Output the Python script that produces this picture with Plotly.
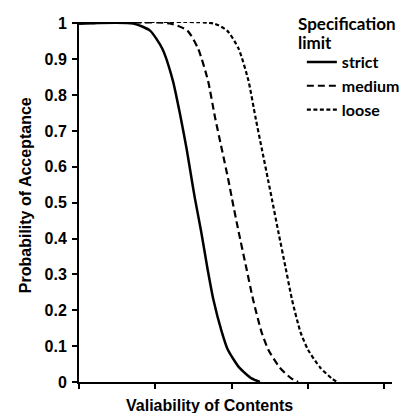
import plotly.graph_objects as go

# Probability levels (shared by all three curves)
prob = [1.0, 1.0, 0.98, 0.93, 0.84, 0.74, 0.65, 0.56, 0.51, 0.42, 0.32, 0.23, 0.14, 0.09, 0.04, 0.01, 0.0]

# Variability (x) at which each curve reaches the probability levels above
strict_x = [0.0, 0.71, 0.93, 1.09, 1.23, 1.33, 1.41, 1.48, 1.52, 1.60, 1.68, 1.76, 1.87, 1.95, 2.10, 2.26, 2.37]
medium_x = [0.0, 1.19, 1.42, 1.56, 1.69, 1.78, 1.87, 1.96, 2.005, 2.09, 2.19, 2.28, 2.39, 2.48, 2.63, 2.78, 2.87]
loose_x = [0.0, 1.76, 1.94, 2.09, 2.22, 2.31, 2.395, 2.48, 2.527, 2.61, 2.705, 2.79, 2.90, 3.00, 3.16, 3.31, 3.38]

series_names = ["strict", "medium", "loose"]
legend_title_lines = ["Specification", "limit"]
y_tick_vals = [0, 0.1, 0.2, 0.3, 0.4, 0.5, 0.6, 0.7, 0.8, 0.9, 1]
y_tick_text = ["0", "0.1", "0.2", "0.3", "0.4", "0.5", "0.6", "0.7", "0.8", "0.9", "1"]
x_tick_vals = [0, 1, 2, 3, 4]

fig = go.Figure()
styles = [
    dict(width=2.5, dash="solid"),
    dict(width=2.2, dash="7px,4px"),
    dict(width=2.2, dash="4px,2.5px"),
]
for name, xs, st in zip(series_names, [strict_x, medium_x, loose_x], styles):
    fig.add_trace(go.Scatter(
        x=xs, y=prob, mode="lines", name=name,
        line=dict(color="black", width=st["width"], dash=st["dash"], shape="spline", smoothing=0.6),
    ))

axis_font = dict(family="Liberation Sans, Arial, sans-serif", size=16, color="black")
legend_font = dict(family="Lato, Open Sans, sans-serif", size=17, color="black")

annotations = [
    dict(text="<b>Valiability of Contents</b>", xref="paper", yref="paper",
         x=0.4185, y=-0.064, xanchor="center", yanchor="middle", showarrow=False,
         font=axis_font),
    dict(text="<b>Probability of Acceptance</b>", xref="paper", yref="paper",
         x=-0.1725, y=0.519, xanchor="center", yanchor="middle", showarrow=False,
         textangle=-90, font=axis_font),
]
for line_text, yp in zip(legend_title_lines, [0.997, 0.944]):
    annotations.append(dict(text=f"<b>{line_text}</b>", xref="paper", yref="paper",
                            x=0.693, y=yp, xanchor="left", yanchor="middle",
                            showarrow=False, font=legend_font))

fig.update_layout(
    width=399, height=413,
    margin=dict(l=79, r=7, t=22, b=31, autoexpand=False),
    paper_bgcolor="white", plot_bgcolor="white",
    showlegend=True,
    legend=dict(
        font=dict(family="Lato, Open Sans, sans-serif", size=16, color="black", weight="bold"),
        x=0.712, y=0.936, xanchor="left", yanchor="top",
        bgcolor="rgba(0,0,0,0)", borderwidth=0,
        itemwidth=30,
    ),
    xaxis=dict(
        range=[0, 4.1], showline=True, linecolor="black", linewidth=2,
        ticks="outside", ticklen=5, tickwidth=2, tickcolor="black",
        tickvals=x_tick_vals, showticklabels=False,
        showgrid=False, zeroline=False, fixedrange=True,
    ),
    yaxis=dict(
        range=[0, 1.004], showline=True, linecolor="black", linewidth=2,
        ticks="outside", ticklen=5, tickwidth=2, tickcolor="black",
        tickvals=y_tick_vals, ticktext=y_tick_text,
        tickfont=dict(family="Liberation Sans, Arial, sans-serif", size=16, color="black", weight="bold"),
        ticklabelstandoff=2,
        showgrid=False, zeroline=False, fixedrange=True,
    ),
    annotations=annotations,
)

fig.write_html("out.html")
